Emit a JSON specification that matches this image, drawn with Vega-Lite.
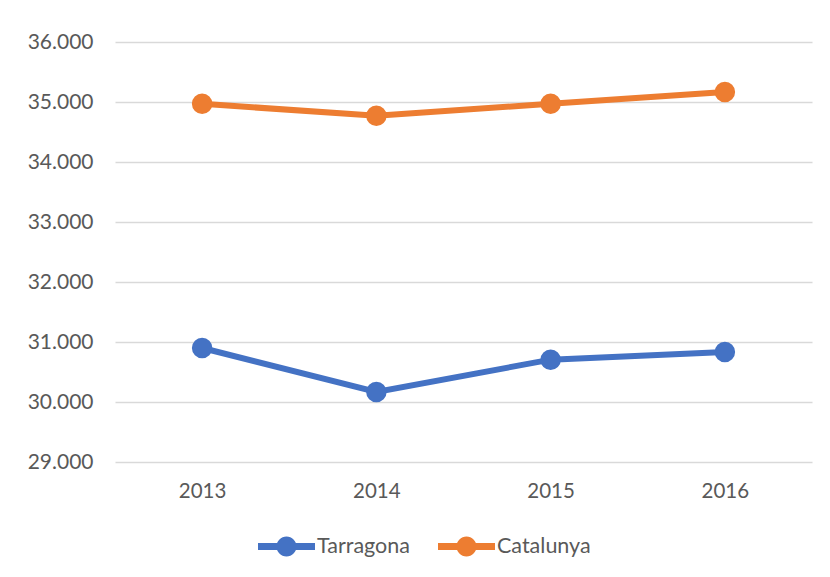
{
  "$schema": "https://vega.github.io/schema/vega-lite/v6.json",
  "width": 697,
  "height": 420,
  "autosize": {"type": "none"},
  "padding": {"left": 115, "top": 42, "right": 18, "bottom": 115},
  "background": "white",
  "data": {
    "values": [
      {"year": "2013", "serie": "Tarragona", "value": 30900},
      {"year": "2014", "serie": "Tarragona", "value": 30167},
      {"year": "2015", "serie": "Tarragona", "value": 30706},
      {"year": "2016", "serie": "Tarragona", "value": 30833},
      {"year": "2013", "serie": "Catalunya", "value": 34970},
      {"year": "2014", "serie": "Catalunya", "value": 34770},
      {"year": "2015", "serie": "Catalunya", "value": 34972},
      {"year": "2016", "serie": "Catalunya", "value": 35167}
    ]
  },
  "mark": {
    "type": "line",
    "strokeWidth": 6,
    "point": {"filled": true, "size": 420, "opacity": 1}
  },
  "encoding": {
    "x": {
      "field": "year",
      "type": "ordinal",
      "scale": {"type": "point", "padding": 0.5},
      "axis": {
        "title": null,
        "labelAngle": 0,
        "domain": false,
        "ticks": false,
        "tickSize": 0,
        "grid": false,
        "labelFont": "Lato",
        "labelFontSize": 20.5,
        "labelColor": "#595959",
        "labelPadding": 19
      }
    },
    "y": {
      "field": "value",
      "type": "quantitative",
      "scale": {"domain": [29000, 36000], "nice": false, "zero": false},
      "axis": {
        "title": null,
        "values": [29000, 30000, 31000, 32000, 33000, 34000, 35000, 36000],
        "labelExpr": "replace(format(datum.value, ',.0f'), ',', '.')",
        "domain": false,
        "ticks": false,
        "tickSize": 0,
        "grid": true,
        "gridColor": "#D9D9D9",
        "gridWidth": 1.5,
        "labelFont": "Lato",
        "labelFontSize": 21,
        "labelColor": "#595959",
        "labelPadding": 22
      }
    },
    "color": {
      "field": "serie",
      "type": "nominal",
      "sort": ["Tarragona", "Catalunya"],
      "scale": {"domain": ["Tarragona", "Catalunya"], "range": ["#4472C4", "#ED7D31"]},
      "legend": {
        "title": null,
        "orient": "none",
        "direction": "horizontal",
        "legendX": 143,
        "legendY": 476,
        "padding": 0,
        "symbolType": "M-1,-0.12 L1,-0.12 L1,0.12 L-1,0.12 Z M0.35,0 A0.35,0.35 0 1,1 -0.35,0 A0.35,0.35 0 1,1 0.35,0 Z",
        "symbolSize": 3249,
        "symbolStrokeWidth": 0,
        "symbolOpacity": 1,
        "labelFont": "Lato",
        "labelFontSize": 21.5,
        "labelColor": "#595959",
        "labelOffset": 2,
        "columnPadding": 28,
        "encode": {
          "symbols": {"update": {"fill": {"scale": "color", "field": "value"}, "strokeWidth": {"value": 0}}}
        }
      }
    }
  },
  "config": {"view": {"stroke": null}}
}
